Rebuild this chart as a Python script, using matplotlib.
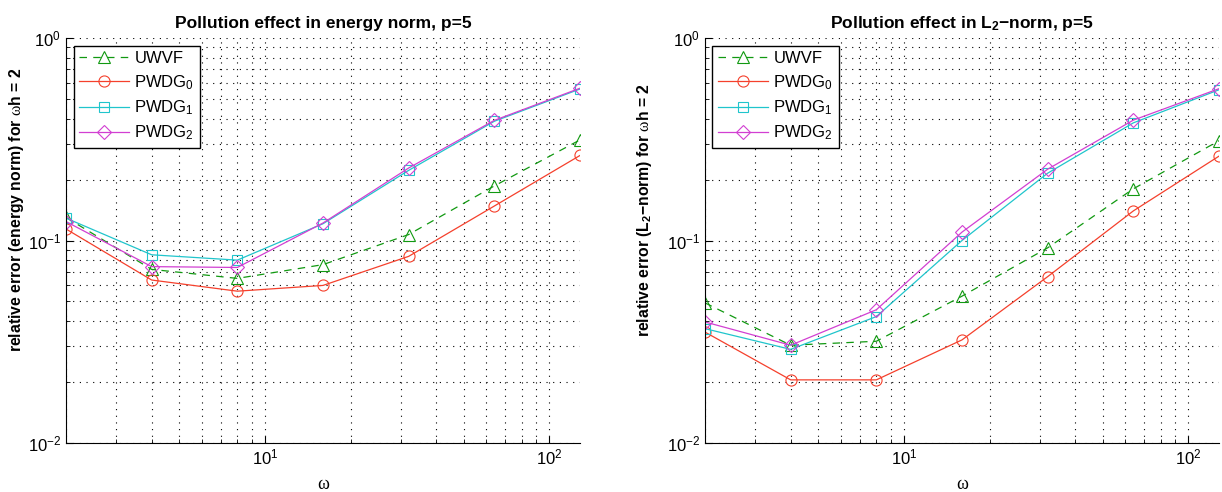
import numpy as np
import matplotlib
matplotlib.use('Agg')
import matplotlib.pyplot as plt
from matplotlib.ticker import NullFormatter, LogLocator

plt.rcParams['font.family'] = ['Liberation Sans', 'DejaVu Sans']
plt.rcParams['mathtext.fontset'] = 'custom'
plt.rcParams['mathtext.rm'] = 'Liberation Sans'
plt.rcParams['mathtext.it'] = 'Liberation Sans:italic'
plt.rcParams['mathtext.bf'] = 'Liberation Sans:bold'
plt.rcParams['mathtext.tt'] = 'Liberation Serif'
plt.rcParams['mathtext.default'] = 'regular'

omega = [2, 4, 8, 16, 32, 64, 128]

# energy norm (left)
uwvf_energy = [0.130, 0.072, 0.065, 0.076, 0.107, 0.186, 0.314]
pwdg0_energy = [0.114, 0.0638, 0.0562, 0.060, 0.0835, 0.148, 0.263]
pwdg1_energy = [0.129, 0.085, 0.080, 0.121, 0.222, 0.388, 0.560]
pwdg2_energy = [0.124, 0.0743, 0.0736, 0.122, 0.228, 0.392, 0.565]

# L2 norm (right)
uwvf_l2 = [0.0492, 0.0304, 0.0318, 0.0531, 0.092, 0.180, 0.311]
pwdg0_l2 = [0.0353, 0.0205, 0.0205, 0.0323, 0.0663, 0.140, 0.261]
pwdg1_l2 = [0.0367, 0.029, 0.0421, 0.100, 0.215, 0.381, 0.555]
pwdg2_l2 = [0.0396, 0.0304, 0.0455, 0.110, 0.225, 0.393, 0.562]

labels = ['UWVF', 'PWDG$_0$', 'PWDG$_1$', 'PWDG$_2$']
colors = ['#119911', '#f5402c', '#20c5cc', '#d23fd2']
markers = ['^', 'o', 's', 'D']
msizes = [8, 8, 6.5, 7]

titles = ['Pollution effect in energy norm, p=5',
          'Pollution effect in L$_\\mathbf{2}$\u2212norm, p=5']
ylabels = ['relative error (energy norm) for $\\mathtt{\\omega}$h = 2',
           'relative error (L$_\\mathbf{2}$\u2212norm) for $\\mathtt{\\omega}$h = 2']
ylabel_pads = [1.5, 9]

fig = plt.figure(figsize=(12.22, 4.92), dpi=100)
ax1 = fig.add_axes([66/1222, 49/492, 514/1222, 405/492])
ax2 = fig.add_axes([705/1222, 49/492, 514/1222, 405/492])

for k, (ax, data) in enumerate([(ax1, [uwvf_energy, pwdg0_energy, pwdg1_energy, pwdg2_energy]),
                                (ax2, [uwvf_l2, pwdg0_l2, pwdg1_l2, pwdg2_l2])]):
    for i in range(4):
        ls = (0, (6, 5)) if i == 0 else '-'
        ax.plot(omega, data[i], linestyle=ls, color=colors[i], marker=markers[i],
                markersize=msizes[i], markerfacecolor='none', markeredgewidth=0.8,
                linewidth=0.9, label=labels[i])

    ax.set_xscale('log')
    ax.set_yscale('log')
    ax.set_xlim(2, 128)
    ax.set_ylim(1e-2, 1)
    ax.xaxis.set_minor_locator(LogLocator(base=10, subs=np.arange(2, 10)))
    ax.yaxis.set_minor_locator(LogLocator(base=10, subs=np.arange(2, 10)))
    ax.xaxis.set_minor_formatter(NullFormatter())
    ax.yaxis.set_minor_formatter(NullFormatter())

    ax.grid(True, which='both', color='black', linestyle=(0, (1, 5)), linewidth=0.8)
    ax.spines['top'].set_visible(False)
    ax.spines['right'].set_visible(False)
    ax.tick_params(which='both', direction='in', labelsize=12)
    ax.tick_params(which='major', length=5, width=0.8)
    ax.tick_params(which='minor', length=3, width=0.6)

    ax.set_title(titles[k], fontsize=12.5, fontweight='bold', pad=7)
    ax.set_ylabel(ylabels[k], fontsize=11.3, fontweight='bold', labelpad=ylabel_pads[k])
    ax.yaxis.label.set_y(0.575)  # label sits a bit above centre in the original
    ax.set_xlabel('\u03c9', fontsize=13, family='Liberation Serif', labelpad=6)

    leg = ax.legend(loc='upper left', fontsize=12, frameon=True, fancybox=False,
                    edgecolor='black', framealpha=1, handlelength=3.0,
                    handletextpad=0.3, borderaxespad=0.45, labelspacing=0.4,
                    borderpad=0.35)
    leg.get_frame().set_linewidth(1.0)

fig.savefig('out.png', dpi=100)
